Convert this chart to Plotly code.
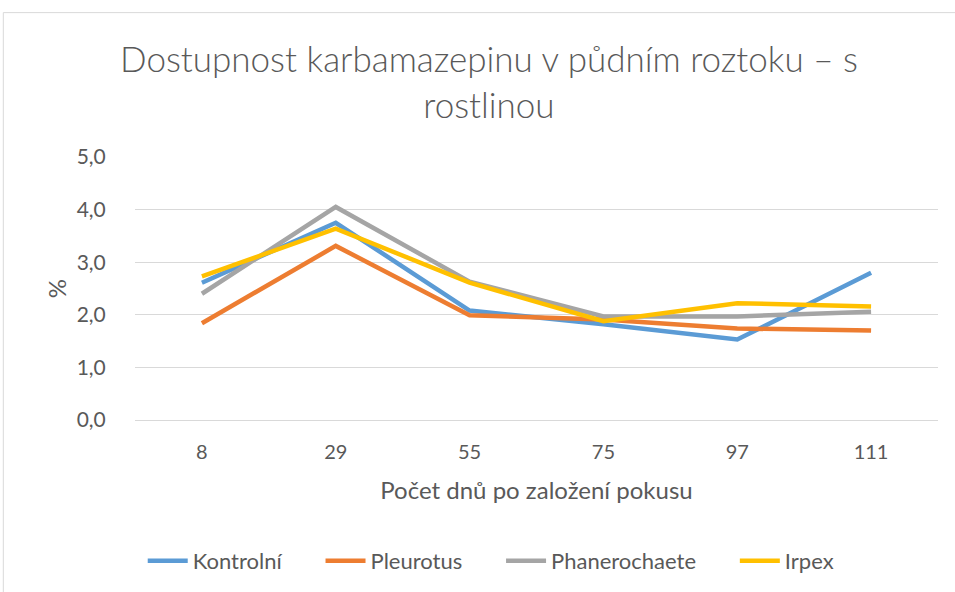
import plotly.graph_objects as go

days = ["8", "29", "55", "75", "97", "111"]
kontrolni = [2.61, 3.75, 2.08, 1.82, 1.53, 2.80]
pleurotus = [1.84, 3.31, 1.99, 1.91, 1.74, 1.70]
phanerochaete = [2.40, 4.05, 2.63, 1.97, 1.97, 2.06]
irpex = [2.73, 3.64, 2.61, 1.88, 2.22, 2.16]

series = [
    ("Kontrolní", kontrolni, "#5B9BD5"),
    ("Pleurotus", pleurotus, "#ED7D31"),
    ("Phanerochaete", phanerochaete, "#A5A5A5"),
    ("Irpex", irpex, "#FFC000"),
]

font_family = "Lato, Open Sans, sans-serif"
text_color = "#595959"
pad = "\u00a0" * 6  # widen legend spacing a bit, Excel-like

fig = go.Figure()
for i, (name, vals, color) in enumerate(series):
    label = name + (pad if i < len(series) - 1 else "")
    fig.add_trace(go.Scatter(
        x=days, y=vals, name=label, mode="lines",
        line=dict(color=color, width=4.5),
    ))

# chart-area border like Excel
fig.add_shape(type="rect", xref="paper", yref="paper",
              x0=-0.164, x1=1.05, y0=-1.0, y1=1.549,
              line=dict(color="#D9D9D9", width=1), layer="below")

fig.update_layout(
    width=955, height=592,
    margin=dict(l=135, r=17, t=157, b=171),
    paper_bgcolor="white", plot_bgcolor="white",
    separators=", ",
    font=dict(family=font_family, color=text_color, size=21),
    title=dict(
        text="Dostupnost karbamazepinu v půdním roztoku – s<br>rostlinou",
        x=0.512, xref="container", xanchor="center",
        y=0.878, yref="container", yanchor="top",
        font=dict(size=35, color=text_color, family=font_family, weight=300),
    ),
    xaxis=dict(
        type="category", range=[-0.5, 5.5], automargin=False,
        showgrid=False, zeroline=False,
        showline=True, linecolor="#D9D9D9", linewidth=1,
        ticks="outside", ticklen=14, tickcolor="rgba(0,0,0,0)",
        tickfont=dict(size=20, color=text_color),
        title=dict(text="Počet dnů po založení pokusu", standoff=20,
                   font=dict(size=24, color=text_color)),
    ),
    yaxis=dict(
        range=[0, 5], dtick=1, tickformat=".1f", automargin=False,
        showgrid=True, gridcolor="#D9D9D9", gridwidth=1,
        zeroline=False, showline=False,
        ticks="outside", ticklen=24, tickcolor="rgba(0,0,0,0)",
        tickfont=dict(size=21, color=text_color),
        title=dict(text="%", standoff=3, font=dict(size=24, color=text_color)),
    ),
    legend=dict(
        orientation="h", x=0.443, xanchor="center", y=-0.53, yanchor="middle",
        font=dict(size=22, color=text_color), itemwidth=40,
    ),
)

fig.write_html("out.html", config={"displayModeBar": False},
               post_script="document.body.style.margin='0';")
